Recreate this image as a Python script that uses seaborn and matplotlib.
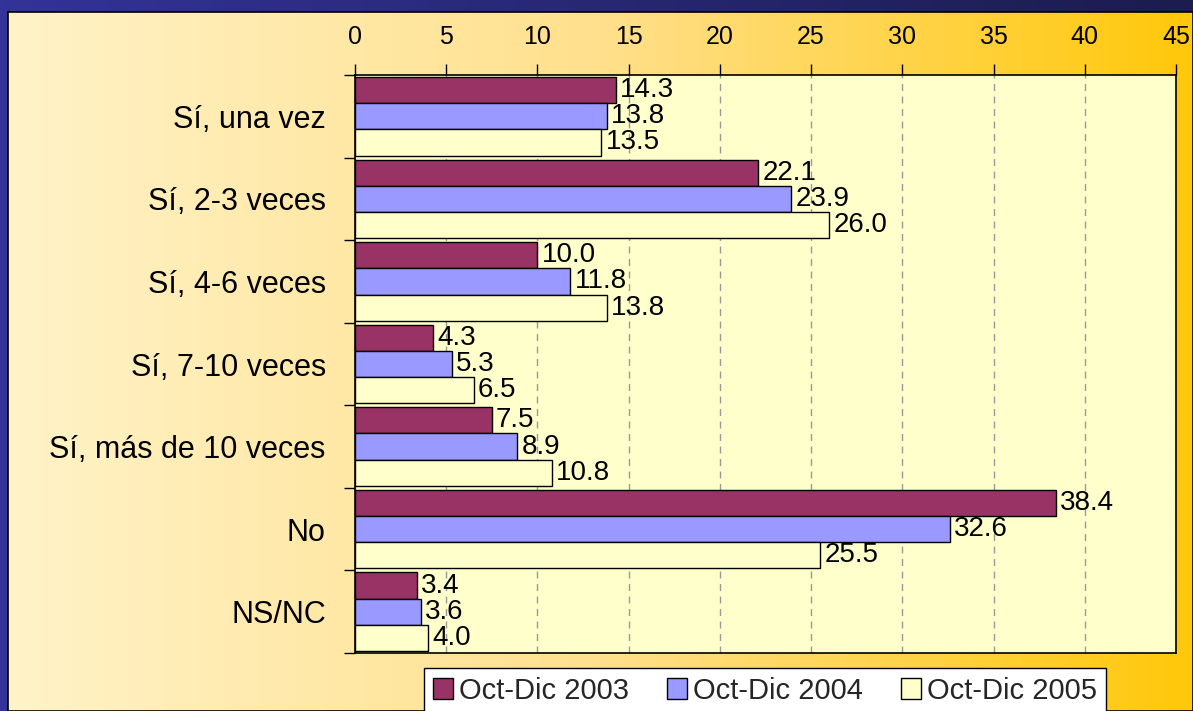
import matplotlib
matplotlib.use("Agg")
import matplotlib.pyplot as plt
import numpy as np
import pandas as pd
import seaborn as sns
from matplotlib.colors import LinearSegmentedColormap
from matplotlib.ticker import FixedLocator

categories = [
    "Sí, una vez",
    "Sí, 2-3 veces",
    "Sí, 4-6 veces",
    "Sí, 7-10 veces",
    "Sí, más de 10 veces",
    "No",
    "NS/NC",
]
periods = ["Oct-Dic 2003", "Oct-Dic 2004", "Oct-Dic 2005"]
v2003 = [14.3, 22.1, 10.0, 4.3, 7.5, 38.4, 3.4]
v2004 = [13.8, 23.9, 11.8, 5.3, 8.9, 32.6, 3.6]
v2005 = [13.5, 26.0, 13.8, 6.5, 10.8, 25.5, 4.0]
x_ticks = [0, 5, 10, 15, 20, 25, 30, 35, 40, 45]

bar_colors = ["#993366", "#9999FF", "#FFFFCC"]

df = pd.DataFrame({
    "category": categories * 3,
    "period": [p for p in periods for _ in categories],
    "value": v2003 + v2004 + v2005,
})

sns.set_theme(style="white")
plt.rcParams["font.family"] = ["Liberation Sans", "DejaVu Sans"]

W, H = 1193, 711
fig = plt.figure(figsize=(W / 100, H / 100), dpi=100, facecolor="#333399")

# dark top band with a blue gradient
grad = np.linspace(0, 1, 256).reshape(1, -1)
top = fig.add_axes([0, 1 - 12 / H, 1, 12 / H])
top.imshow(grad, aspect="auto",
           cmap=LinearSegmentedColormap.from_list("top", ["#333399", "#1C1C4E"]))
top.set_axis_off()

# warm gradient panel behind the chart
panel = fig.add_axes([8 / W, 0, 1 - 8 / W, 1 - 12 / H])
panel.imshow(grad, aspect="auto",
             cmap=LinearSegmentedColormap.from_list(
                 "warm", ["#FFF3C8", "#FFE08C", "#FFC80A"]))
panel.set_xticks([])
panel.set_yticks([])
for s in panel.spines.values():
    s.set_color("black")
    s.set_linewidth(1.2)

ax = fig.add_axes([355 / W, 1 - 653 / H, (1176 - 355) / W, (653 - 75) / H])
ax.set_facecolor("#FFFFCC")

sns.barplot(
    data=df, x="value", y="category", hue="period",
    order=categories, hue_order=periods,
    palette=dict(zip(periods, bar_colors)), saturation=1,
    orient="y", width=0.95, errorbar=None,
    edgecolor="black", linewidth=1, ax=ax,
)

for cont in ax.containers:
    ax.bar_label(cont, fmt="%.1f", padding=3, fontsize=20, color="black")

ax.set_xlim(0, 45)
ax.set_xticks(x_ticks)
ax.xaxis.tick_top()
ax.tick_params(axis="x", top=True, bottom=False, length=8, width=1,
               pad=11, labelsize=18, colors="black", direction="out")
ax.grid(axis="x", linestyle=(0, (5, 4)), color="#999999", linewidth=1)
ax.grid(axis="y", visible=False)
ax.set_axisbelow(True)

ax.set_ylim(len(categories) - 0.5, -0.5)
ax.yaxis.set_minor_locator(FixedLocator(np.arange(-0.5, len(categories), 1)))
ax.tick_params(axis="y", which="major", length=0, pad=21, labelsize=22,
               colors="black")
ax.tick_params(axis="y", which="minor", left=True, length=8, width=1,
               color="black", direction="out")

ax.set_xlabel("")
ax.set_ylabel("")
for s in ax.spines.values():
    s.set_visible(True)
    s.set_color("black")
    s.set_linewidth(1.2)

handles, labels = ax.get_legend_handles_labels()
ax.get_legend().remove()
fig.legend(
    handles, labels, loc="upper center",
    bbox_to_anchor=(765 / W, 1 - 668 / H), ncol=3,
    frameon=True, fancybox=False, edgecolor="black", facecolor="white",
    framealpha=1, fontsize=21, handlelength=0.7, handleheight=0.7,
    handletextpad=0.2, columnspacing=1.3, borderaxespad=0, borderpad=0.3,
)

fig.savefig("out.png", dpi=100)
